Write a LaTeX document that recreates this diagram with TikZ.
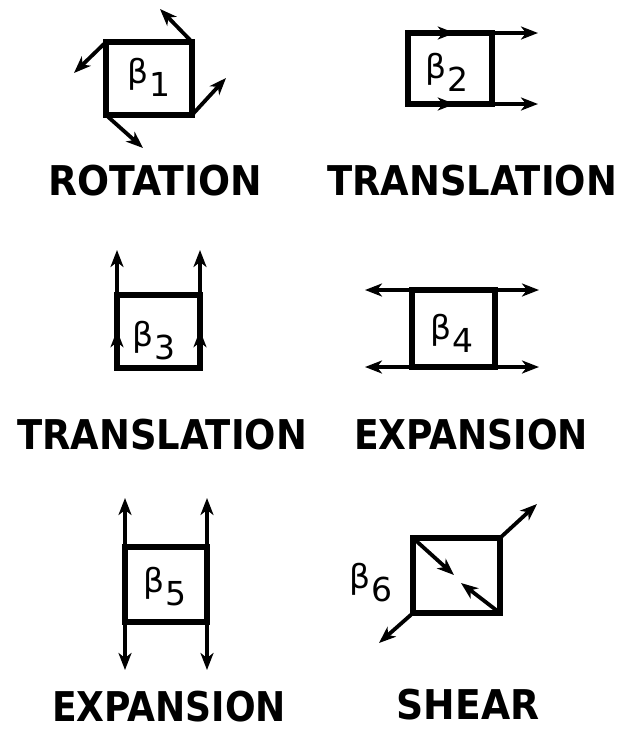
\documentclass[tikz,border=0pt]{standalone}
\usepackage{fontspec}
\setmainfont{DejaVu Sans}
\usetikzlibrary{arrows.meta,decorations.markings}
\begin{document}
\begin{tikzpicture}[x=1pt,y=-1pt,
 box/.style={draw,line width=6pt,inner sep=0pt,outer sep=0pt},
 vec/.style={line width=3.8pt,-{Stealth[length=17pt,width=13pt,inset=5pt]}},
 midarrow/.style={postaction={decorate},decoration={markings,mark=at position #1 with {\arrow{Stealth[length=17pt,width=13pt,inset=5pt]}}}},
 lab/.style={font=\fontsize{41}{41}\selectfont\bfseries,inner sep=0pt},
 sym/.style={font=\fontsize{33}{33}\selectfont,inner sep=0pt}]
\useasboundingbox (0,0) rectangle (625,732);
% panel 1
\node[box,minimum width=86pt,minimum height=73pt] (s1) at (149,78.5) {};
\node[sym] (b1) at (149,77) {β\kern1pt\raisebox{-13pt}{1}};
\coordinate (r1) at (160,9);
\coordinate (r2) at (74,73);
\coordinate (r3) at (226,78);
\coordinate (r4) at (143,148);
\draw[vec] (s1.north east) -- (r1);
\draw[vec] (s1.north west) -- (r2);
\draw[vec] (s1.south east) -- (r3);
\draw[vec] (s1.south west) -- (r4);
\node[lab] (l1) at (155,181) {\scalebox{0.92}[1]{ROTATION}};
% panel 2
\node[box,minimum width=84pt,minimum height=71pt] (s2) at (450,68.5) {};
\node[sym] (b2) at (447,72) {β\kern1pt\raisebox{-13pt}{2}};
\coordinate (t1) at (538,33);
\coordinate (t2) at (538,104);
\draw[vec,midarrow=0.36] (s2.north west) -- (t1);
\draw[vec,midarrow=0.36] (s2.south west) -- (t2);
\node[lab] (l2) at (472,181) {\scalebox{0.9}[1]{TRANSLATION}};
% panel 3
\node[box,minimum width=83pt,minimum height=73pt] (s3) at (158.5,331.5) {};
\node[sym] (b3) at (154,341) {β\kern1pt\raisebox{-13pt}{3}};
\coordinate (u1) at (117,250);
\coordinate (u2) at (200,250);
\draw[vec,midarrow=0.32] (s3.south west) -- (u1);
\draw[vec,midarrow=0.32] (s3.south east) -- (u2);
\node[lab] (l3) at (162,435) {\scalebox{0.9}[1]{TRANSLATION}};
% panel 4
\node[box,minimum width=83pt,minimum height=77pt] (s4) at (453.5,328.5) {};
\node[sym] (b4) at (452,333) {β\kern1pt\raisebox{-13pt}{4}};
\coordinate (e1) at (365,290);
\coordinate (e2) at (539,290);
\coordinate (e3) at (365,367);
\coordinate (e4) at (539,367);
\draw[vec] (s4.north west) -- (e1);
\draw[vec] (s4.north east) -- (e2);
\draw[vec] (s4.south west) -- (e3);
\draw[vec] (s4.south east) -- (e4);
\node[lab] (l4) at (471,435) {\scalebox{0.88}[1]{EXPANSION}};
% panel 5
\node[box,minimum width=82pt,minimum height=75pt] (s5) at (166,584.5) {};
\node[sym] (b5) at (165,587) {β\kern1pt\raisebox{-13pt}{5}};
\coordinate (f1) at (125,498);
\coordinate (f2) at (207,498);
\coordinate (f3) at (125,670);
\coordinate (f4) at (207,670);
\draw[vec] (s5.north west) -- (f1);
\draw[vec] (s5.north east) -- (f2);
\draw[vec] (s5.south west) -- (f3);
\draw[vec] (s5.south east) -- (f4);
\node[lab] (l5) at (169,707) {\scalebox{0.88}[1]{EXPANSION}};
% panel 6
\node[box,minimum width=87pt,minimum height=75pt] (s6) at (456.5,575.5) {};
\node[sym] (b6) at (371,583) {β\kern1pt\raisebox{-13pt}{6}};
\coordinate (h1) at (454,575);
\coordinate (h2) at (461,583);
\coordinate (h3) at (537,504);
\coordinate (h4) at (379,643);
\draw[vec] (s6.north west) -- (h1);
\draw[vec] (s6.south east) -- (h2);
\draw[vec] (s6.north east) -- (h3);
\draw[vec] (s6.south west) -- (h4);
\node[lab] (l6) at (468,705) {\scalebox{0.92}[1]{SHEAR}};
\end{tikzpicture}
\end{document}
